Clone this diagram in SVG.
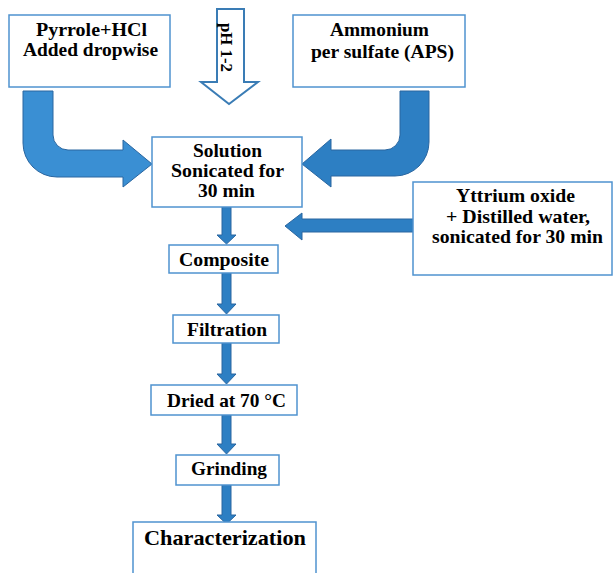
<svg xmlns="http://www.w3.org/2000/svg" width="613" height="573" viewBox="0 0 613 573">
  <style>
    .box { fill: #ffffff; stroke: #4f93cf; stroke-width: 1.5; }
    .t { font-family: "Liberation Serif", "Times New Roman", serif; font-weight: bold; font-size: 19px; fill: #000; }
    .arr { fill: #2d7fc3; stroke: #2a66a0; stroke-width: 1; }
    .arrL { fill: #3a8fd3; stroke: #2a66a0; stroke-width: 1; }
  </style>
  <rect width="613" height="573" fill="#ffffff"/>

  <g id="connectors">
    <path class="arrL" d="M23,91 L23,143 A34,34 0 0 0 57,177 L123,177 L123,187 L152,164 L123,140 L123,150 L68,150 A15,15 0 0 1 53,135 L53,91 Z"/>
    <path class="arr" d="M429,91 L429,142 A34,34 0 0 1 395,176 L331,176 L331,187 L302,164 L331,139 L331,150 L385,150 A15,15 0 0 0 400,135 L400,91 Z"/>
    <path d="M217,9 L244,9 L244,82 L258,82 L229,104 L201,82 L217,82 Z" fill="#ffffff" stroke="#3a7cb5" stroke-width="2"/>
    <path class="arr" d="M413,219 L302,219 L302,213 L285,226 L302,240 L302,232 L413,232 Z"/>
    <path class="arr" d="M222,207 L231,207 L231,235 L236,235 L226.5,244 L217,235 L222,235 Z"/>
    <path class="arr" d="M222,273 L231,273 L231,304 L236,304 L226.5,314 L217,304 L222,304 Z"/>
    <path class="arr" d="M222,343 L231,343 L231,374 L236,374 L226.5,384 L217,374 L222,374 Z"/>
    <path class="arr" d="M222,415 L231,415 L231,444 L236,444 L226.5,454 L217,444 L222,444 Z"/>
    <path class="arr" d="M222,485 L231,485 L231,515 L236,515 L226.5,524 L217,515 L222,515 Z"/>
  </g>

  <g id="ph">
    <text class="t" transform="translate(221,23) rotate(90)" x="0" y="0" textLength="49" lengthAdjust="spacingAndGlyphs" style="font-size:17px">pH 1-2</text>
  </g>

  <g id="pyrrole">
    <rect class="box" x="9" y="15" width="161" height="72"/>
    <text class="t" x="36" y="36" textLength="111" lengthAdjust="spacingAndGlyphs">Pyrrole+HCl</text>
    <text class="t" x="23" y="56" textLength="135" lengthAdjust="spacingAndGlyphs">Added dropwise</text>
  </g>

  <g id="aps">
    <rect class="box" x="293" y="15" width="172" height="72"/>
    <text class="t" x="330" y="36" textLength="99" lengthAdjust="spacingAndGlyphs">Ammonium</text>
    <text class="t" x="311" y="58" textLength="143" lengthAdjust="spacingAndGlyphs">per sulfate (APS)</text>
  </g>

  <g id="solution">
    <rect class="box" x="152" y="137" width="150" height="70"/>
    <text class="t" x="193" y="157" textLength="69" lengthAdjust="spacingAndGlyphs">Solution</text>
    <text class="t" x="171" y="177" textLength="113" lengthAdjust="spacingAndGlyphs">Sonicated for</text>
    <text class="t" x="198" y="197" textLength="57" lengthAdjust="spacingAndGlyphs">30 min</text>
  </g>

  <g id="yttrium">
    <rect class="box" x="413" y="182" width="199" height="93"/>
    <text class="t" x="456" y="202" textLength="119" lengthAdjust="spacingAndGlyphs">Yttrium oxide</text>
    <text class="t" x="446" y="223" textLength="144" lengthAdjust="spacingAndGlyphs">+ Distilled water,</text>
    <text class="t" x="432" y="243" textLength="171" lengthAdjust="spacingAndGlyphs">sonicated for 30 min</text>
  </g>

  <g id="composite">
    <rect class="box" x="169" y="245" width="109" height="28"/>
    <text class="t" x="179" y="266" textLength="90" lengthAdjust="spacingAndGlyphs">Composite</text>
  </g>

  <g id="filtration">
    <rect class="box" x="173" y="315" width="106" height="28"/>
    <text class="t" x="187" y="336" textLength="80" lengthAdjust="spacingAndGlyphs">Filtration</text>
  </g>

  <g id="dried">
    <rect class="box" x="151" y="385" width="146" height="30"/>
    <text class="t" x="167" y="407" textLength="119" lengthAdjust="spacingAndGlyphs">Dried at 70 °C</text>
  </g>

  <g id="grinding">
    <rect class="box" x="176" y="455" width="103" height="30"/>
    <text class="t" x="191" y="475" textLength="76" lengthAdjust="spacingAndGlyphs">Grinding</text>
  </g>

  <g id="characterization">
    <rect class="box" x="133" y="522" width="183" height="60"/>
    <text class="t" x="144" y="545" textLength="162" lengthAdjust="spacingAndGlyphs" style="font-size:21px">Characterization</text>
  </g>
</svg>
